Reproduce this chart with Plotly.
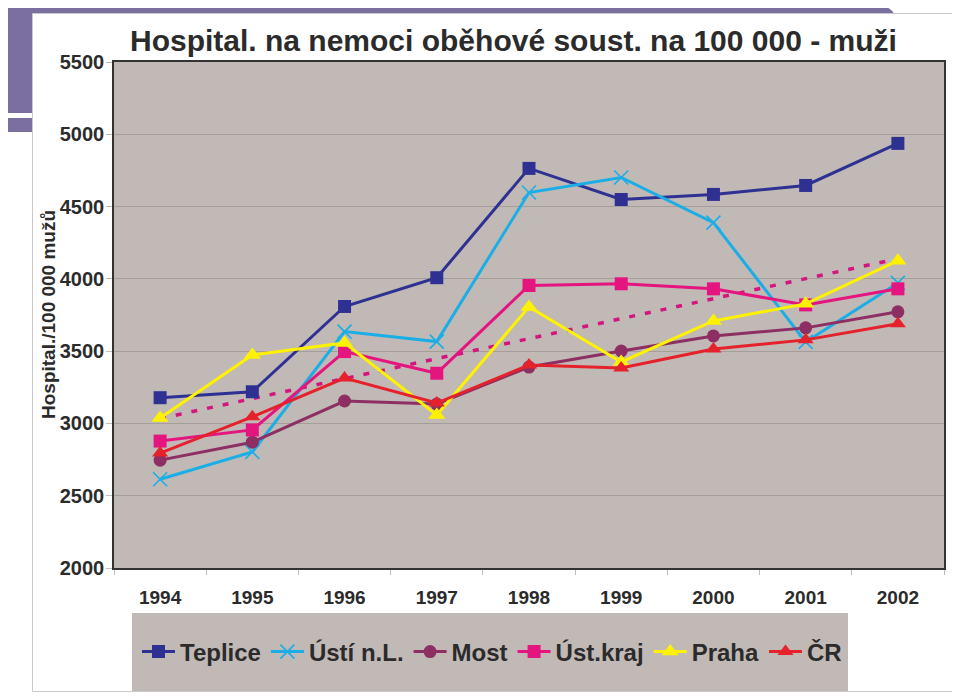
import numpy as np
import plotly.graph_objects as go

years = ["1994", "1995", "1996", "1997", "1998", "1999", "2000", "2001", "2002"]
teplice = [3178, 3219, 3809, 4008, 4764, 4549, 4584, 4646, 4937]
usti_nl = [2614, 2803, 3635, 3566, 4597, 4701, 4389, 3564, 3972]
most = [2746, 2870, 3155, 3134, 3390, 3501, 3605, 3661, 3772]
usti_kraj = [2878, 2955, 3497, 3347, 3954, 3966, 3931, 3820, 3931]
praha = [3037, 3474, 3557, 3058, 3806, 3425, 3709, 3827, 4126]
cr = [2795, 3046, 3314, 3141, 3404, 3383, 3515, 3578, 3689]
y_ticks = [2000, 2500, 3000, 3500, 4000, 4500, 5000, 5500]

# page is shown with an 8px body margin; figure fills the rest of the window
OFF = 8
PAGE_W, PAGE_H = 960, 696
W, H = PAGE_W - OFF, PAGE_H - OFF
L, R, T, B = 114, 944, 62, 568  # plot area in page pixels


def px(x):
    return (x - L) / (R - L)


def py(y):
    return (B - y) / (B - T)


FONT = "Liberation Sans, Arial, Helvetica, sans-serif"
TXT = "#2b2b2b"

fig = go.Figure()

# linear trend of Úst. kraj
xi = np.arange(len(years))
k, q = np.polyfit(xi, usti_kraj, 1)
trend = k * xi + q
fig.add_trace(go.Scatter(x=years, y=trend, mode="lines", showlegend=False,
                         line=dict(color="#D4157E", width=3.5, dash="6px,10px"),
                         hoverinfo="skip"))

series = [
    ("Teplice", teplice, "#2E3192", dict(symbol="square", size=13)),
    ("Ústí n.L.", usti_nl, "#1BAEE6", dict(symbol="x-thin", size=14,
                                             line=dict(width=1.6, color="#1BAEE6"))),
    ("Most", most, "#8E2F63", dict(symbol="circle", size=13)),
    ("Úst.kraj", usti_kraj, "#E5157F", dict(symbol="square", size=13)),
    ("Praha", praha, "#FFF200", dict(symbol="triangle-up", size=15)),
    ("ČR", cr, "#E5212B", dict(symbol="triangle-up", size=14)),
]
for name, vals, col, mk in series:
    mk = dict(mk)
    mk.setdefault("color", col)
    fig.add_trace(go.Scatter(x=years, y=vals, mode="lines+markers", name=name,
                             line=dict(color=col, width=3), marker=mk))

PURPLE = "#7B6FA0"
shapes = [
    # purple decorative frame
    dict(type="path", xref="paper", yref="paper", layer="below",
         path=(f"M {px(5)},{py(3)} L {px(858)},{py(3)} "
               f"Q {px(890)},{py(3)} {px(894)},{py(14)} "
               f"L {px(32)},{py(14)} L {px(32)},{py(113)} L {px(5)},{py(113)} Z"),
         fillcolor=PURPLE, line=dict(width=0)),
    dict(type="rect", xref="paper", yref="paper", layer="below",
         x0=px(5), x1=px(32), y0=py(118), y1=py(132),
         fillcolor=PURPLE, line=dict(width=0)),
    # white panel
    dict(type="rect", xref="paper", yref="paper", layer="below",
         x0=px(32.5), x1=px(957.5), y0=py(13.5), y1=py(691.5),
         fillcolor="white", line=dict(color="#C9C9C9", width=1)),
    # plot area
    dict(type="rect", xref="paper", yref="paper", layer="below",
         x0=0, x1=1, y0=0, y1=1, fillcolor="#C1B9B6", line=dict(width=0)),
    # legend box
    dict(type="rect", xref="paper", yref="paper", layer="below",
         x0=px(132), x1=px(848), y0=py(613), y1=py(691),
         fillcolor="#C1B9B6", line=dict(width=0)),
]

fig.update_layout(
    width=W, height=H,
    margin=dict(l=L - OFF, r=PAGE_W - R, t=T - OFF, b=PAGE_H - B),
    paper_bgcolor="white", plot_bgcolor="rgba(0,0,0,0)",
    font=dict(family=FONT, color=TXT),
    title=dict(text="Hospital. na nemoci oběhové soust. na 100 000 - muži",
               x=(130 - OFF) / W, xanchor="left", xref="container",
               y=1 - (40 - OFF) / H, yanchor="middle", yref="container",
               font=dict(size=30, color=TXT, family=FONT, weight="bold")),
    shapes=shapes,
    showlegend=True,
    legend=dict(orientation="h", x=px(137), xanchor="left",
                y=py(652), yanchor="middle",
                bgcolor="rgba(0,0,0,0)", itemwidth=33,
                font=dict(size=24, family=FONT, color=TXT, weight="bold"),
                itemsizing="trace", traceorder="normal"),
    annotations=[dict(text="Hospital./100 000 mužů", textangle=-90,
                      xref="paper", yref="paper", x=px(48), y=py(315),
                      xanchor="center", yanchor="middle", showarrow=False,
                      font=dict(size=19, family=FONT, color=TXT, weight="bold"))],
)

fig.update_xaxes(type="category", categoryorder="array", categoryarray=years,
                 range=[-0.5, 8.5], showgrid=False, tickson="boundaries",
                 ticks="outside", ticklen=5, tickcolor="#BDBDBD", tickwidth=1,
                 showline=True, linecolor="#333333", linewidth=1.5, mirror=True,
                 tickfont=dict(size=19, family=FONT, color=TXT, weight="bold"),
                 ticklabelstandoff=11, zeroline=False)
fig.update_yaxes(range=[2000, 5500], tickvals=y_ticks, showgrid=True,
                 gridcolor="#A59D9A", gridwidth=1,
                 ticks="outside", ticklen=6, tickcolor="#BDBDBD", tickwidth=1,
                 showline=True, linecolor="#333333", linewidth=1.5, mirror=True,
                 tickfont=dict(size=20, family=FONT, color=TXT, weight="bold"),
                 ticklabelstandoff=-2, zeroline=False)

fig.write_html("out.html")
